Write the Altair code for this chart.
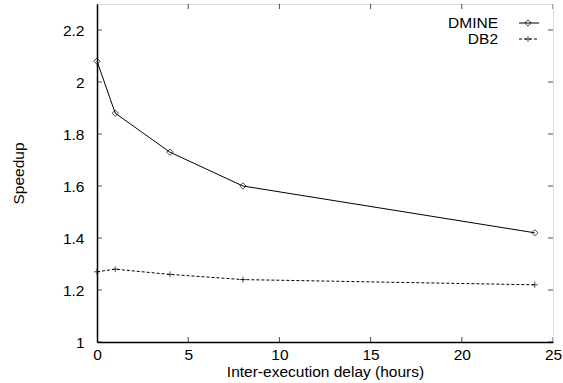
import altair as alt
import pandas as pd

delay = [0, 1, 4, 8, 24]
dmine = [2.08, 1.88, 1.73, 1.60, 1.42]
db2 = [1.27, 1.28, 1.26, 1.24, 1.22]

x_ticks = [0, 5, 10, 15, 20, 25]
y_ticks = [1.0, 1.2, 1.4, 1.6, 1.8, 2.0, 2.2]

W, H = 456, 338
FONT = "Liberation Sans"
FS = 15.5

df_d = pd.DataFrame({"x": delay, "y": dmine})
df_b = pd.DataFrame({"x": delay, "y": db2})
df_xt = pd.DataFrame({"t": x_ticks, "lo": [1.0] * len(x_ticks), "hi": [2.3] * len(x_ticks)})
df_yt = pd.DataFrame({"t": y_ticks, "lo": [0] * len(y_ticks), "hi": [25] * len(y_ticks)})

xs = alt.Scale(domain=[0, 25], nice=False, zero=False)
ys = alt.Scale(domain=[1.0, 2.3], nice=False, zero=False)

xaxis = alt.Axis(values=x_ticks, format="~g", grid=False, domain=True, domainColor="black",
                 domainWidth=1.5, ticks=False, labelFlush=False, labelOverlap=False,
                 labelPadding=5, labelFont=FONT, labelFontSize=FS, labelColor="black",
                 title="Inter-execution delay (hours)", titleFont=FONT, titleFontSize=FS,
                 titleFontWeight="normal", titleColor="black", titleY=29,
                 titleBaseline="middle")
yaxis = alt.Axis(values=y_ticks, format="~g", grid=False, domain=True, domainColor="black",
                 domainWidth=1.5, ticks=False, labelFlush=False, labelOverlap=False,
                 labelPadding=13, labelFont=FONT, labelFontSize=FS, labelColor="black",
                 title="Speedup", titleFont=FONT, titleFontSize=FS, titleFontWeight="normal",
                 titleColor="black", titleX=-79, titleY=H / 2, titleAngle=-90,
                 titleAlign="center", titleBaseline="middle")

line_d = alt.Chart(df_d).mark_line(color="black", strokeWidth=1).encode(
    x=alt.X("x:Q", scale=xs, axis=xaxis),
    y=alt.Y("y:Q", scale=ys, axis=yaxis),
)
pts_d = alt.Chart(df_d).mark_point(shape="diamond", size=40, color="black",
                                   filled=False, strokeWidth=1).encode(
    x=alt.X("x:Q", scale=xs), y=alt.Y("y:Q", scale=ys))

line_b = alt.Chart(df_b).mark_line(color="black", strokeWidth=1, strokeDash=[3, 2]).encode(
    x=alt.X("x:Q", scale=xs), y=alt.Y("y:Q", scale=ys))
pts_b = alt.Chart(df_b).mark_point(shape="M-1,0L1,0M0,-1L0,1", size=36, color="black",
                                   filled=False, strokeWidth=1).encode(
    x=alt.X("x:Q", scale=xs), y=alt.Y("y:Q", scale=ys))

TL = 5
# inward tick marks on all four sides, positioned through the scales (clipped to the frame)
xt_bot = alt.Chart(df_xt).mark_tick(color="black", thickness=1, size=TL * 2,
                                    orient="vertical", clip=True).encode(
    x=alt.X("t:Q", scale=xs), y=alt.Y("lo:Q", scale=ys))
xt_top = alt.Chart(df_xt).mark_tick(color="black", thickness=1, size=TL * 2,
                                    orient="vertical", clip=True).encode(
    x=alt.X("t:Q", scale=xs), y=alt.Y("hi:Q", scale=ys))
yt_left = alt.Chart(df_yt).mark_tick(color="black", thickness=1, size=TL * 2,
                                     orient="horizontal", clip=True).encode(
    y=alt.Y("t:Q", scale=ys), x=alt.X("lo:Q", scale=xs))
yt_right = alt.Chart(df_yt).mark_tick(color="black", thickness=1, size=TL * 2,
                                      orient="horizontal", clip=True).encode(
    y=alt.Y("t:Q", scale=ys), x=alt.X("hi:Q", scale=xs))

# legend (top-right, gnuplot style)
lx_text = 401
ly1, ly2 = 19, 35
leg_t1 = alt.Chart().mark_text(align="right", baseline="middle", font=FONT, fontSize=FS,
                               color="black").encode(
    x=alt.value(lx_text), y=alt.value(ly1), text=alt.value("DMINE"))
leg_t2 = alt.Chart().mark_text(align="right", baseline="middle", font=FONT, fontSize=FS,
                               color="black").encode(
    x=alt.value(lx_text), y=alt.value(ly2), text=alt.value("DB2"))
leg_l1 = alt.Chart().mark_rule(color="black", strokeWidth=1).encode(
    x=alt.value(422), x2=alt.value(442), y=alt.value(ly1))
leg_l2 = alt.Chart().mark_rule(color="black", strokeWidth=1, strokeDash=[3, 2]).encode(
    x=alt.value(422), x2=alt.value(442), y=alt.value(ly2))
leg_p1 = alt.Chart().mark_point(shape="diamond", size=40, color="black", filled=False,
                                strokeWidth=1).encode(x=alt.value(431), y=alt.value(ly1))
leg_p2 = alt.Chart().mark_point(shape="M-1,0L1,0M0,-1L0,1", size=36, color="black",
                                filled=False, strokeWidth=1).encode(x=alt.value(431), y=alt.value(ly2))

chart = alt.layer(
    line_b, pts_b, line_d, pts_d, xt_bot, xt_top, yt_left, yt_right,
    leg_l1, leg_l2, leg_p1, leg_p2, leg_t1, leg_t2,
).properties(
    width=W, height=H,
    autosize=alt.AutoSizeParams(type="none"),
    padding={"left": 97, "top": 4, "right": 10, "bottom": 41},
).configure_view(
    stroke="black", strokeWidth=1.5
).configure(background="white")

chart.save("out.html", embed_options={"renderer": "svg", "actions": False})
